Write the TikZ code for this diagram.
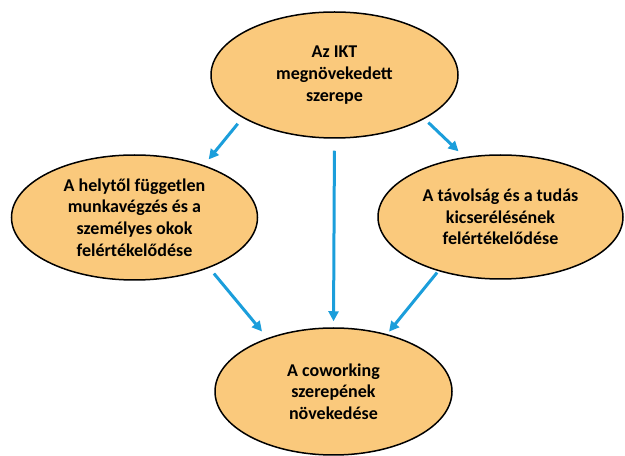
\documentclass[tikz,border=0pt]{standalone}
\usepackage{fontspec}
\setmainfont{Carlito}
\usepackage{xcolor}
\usetikzlibrary{arrows.meta,shapes.geometric}
\definecolor{ellfill}{RGB}{250,201,124}
\definecolor{arrblue}{RGB}{27,158,219}
\tikzset{
  ellbox/.style={ellipse, draw=black, line width=1.5pt, fill=ellfill, align=center, inner sep=0pt, font=\fontsize{18}{21.6}\selectfont\bfseries},
  barr/.style={-{Triangle[length=10pt,width=10pt]}, line width=3pt, draw=arrblue}
}
\begin{document}
\begin{tikzpicture}[x=1pt,y=1pt]
\useasboundingbox (0,0) rectangle (625,456);
\node[ellbox, minimum width=247pt, minimum height=126pt] (ikt) at (334.5,381) {Az IKT\\megnövekedett\\szerepe};
\node[ellbox, minimum width=246pt, minimum height=125pt] (hely) at (134.5,238.5) {A helytől független\\munkavégzés és a\\személyes okok\\felértékelődése};
\node[ellbox, minimum width=245pt, minimum height=124pt] (tav) at (500.5,239) {A távolság és a tudás\\kicserélésének\\felértékelődése};
\node[ellbox, minimum width=237pt, minimum height=127pt] (cowork) at (333.5,64.5) {A coworking\\szerepének\\növekedése};
\draw[barr, shorten <=7.6pt, shorten >=7.4pt] (ikt.205) -- (hely.37);
\draw[barr, shorten <=5.3pt, shorten >=8.2pt] (ikt.334) -- (tav.121);
\draw[barr, shorten <=12pt, shorten >=6pt] (ikt.south) -- (cowork.north);
\draw[barr, shorten <=7.3pt, shorten >=8.5pt] (hely.326) -- (cowork.141);
\draw[barr, shorten <=1.8pt, shorten >=3.2pt] (tav.221) -- (cowork.47);
\end{tikzpicture}
\end{document}
